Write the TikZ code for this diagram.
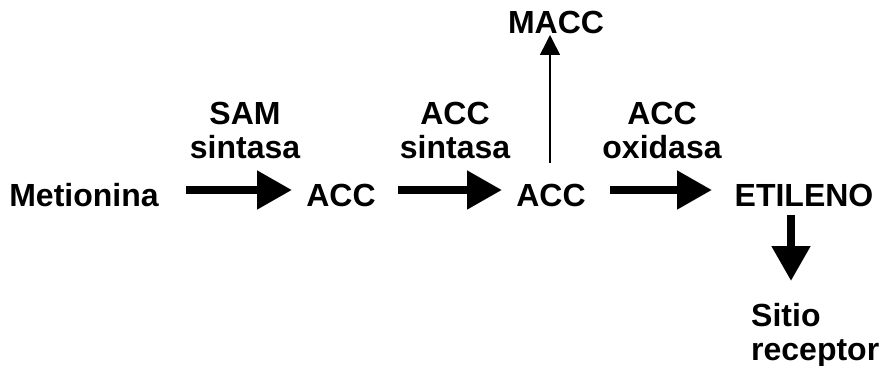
\documentclass[tikz,border=0pt]{standalone}
\usepackage{fontspec}
\setmainfont{Liberation Sans}
\usetikzlibrary{arrows.meta}
\begin{document}
\begin{tikzpicture}[x=1pt,y=-1pt,
  lbl/.style={font=\fontsize{32}{36}\selectfont\bfseries, inner sep=0pt, anchor=base},
  fat/.style={line width=8pt, -{Triangle[length=35pt,width=37pt]}},
  slim/.style={line width=1.6pt, -{Triangle[length=20pt,width=20pt]}}]
\useasboundingbox (0,0) rectangle (880,366);
% main chain
\node[lbl] (met)  at (84,206)  {Metionina};
\node[lbl] (acc1) at (341,206) {ACC};
\node[lbl] (acc2) at (551,206) {ACC};
\node[lbl] (eti)  at (804,206) {ETILENO};
\node[lbl] (macc) at (556,34)  {MACC};
% enzymes
\node[lbl] (e1a) at (245,125) {SAM};
\node[lbl] (e1b) at (245,159) {sintasa};
\node[lbl] (e2a) at (455,125) {ACC};
\node[lbl] (e2b) at (455,159) {sintasa};
\node[lbl] (e3a) at (662,125) {ACC};
\node[lbl] (e3b) at (662,159) {oxidasa};
% receptor
\node[lbl, anchor=base west] (rc1) at (751,326) {Sitio};
\node[lbl, anchor=base west] (rc2) at (751,360) {receptor};
% arrow end points
\coordinate (a1s) at (186,190); \coordinate (a1e) at (292,190);
\coordinate (a2s) at (398,190); \coordinate (a2e) at (502,190);
\coordinate (a3s) at (610,190); \coordinate (a3e) at (712,190);
\coordinate (a4s) at (791,215); \coordinate (a4e) at (791,281);
\coordinate (a5s) at (550,163); \coordinate (a5e) at (550,35);
\draw[fat] (a1s) -- (a1e);
\draw[fat] (a2s) -- (a2e);
\draw[fat] (a3s) -- (a3e);
\draw[fat] (a4s) -- (a4e);
\draw[slim] (a5s) -- (a5e);
\end{tikzpicture}
\end{document}
